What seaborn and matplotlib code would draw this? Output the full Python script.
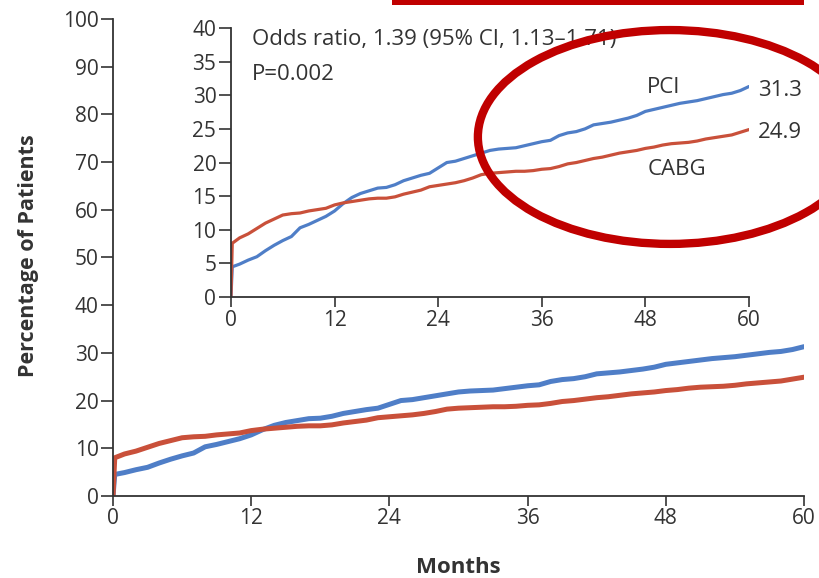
import matplotlib
matplotlib.use("Agg")
import matplotlib.pyplot as plt
from matplotlib.patches import Ellipse, Rectangle
import pandas as pd
import seaborn as sns

# Cumulative incidence of the primary end point, percent of patients
months = [0, 0.15] + list(range(1, 61))
pci = [0, 4.5,
       4.9, 5.5, 6.0, 6.9, 7.7, 8.4, 9.0, 10.3, 10.8, 11.4,
       12.0, 12.8, 13.9, 14.8, 15.4, 15.8, 16.2, 16.3, 16.7, 17.3,
       17.7, 18.1, 18.4, 19.2, 20.0, 20.2, 20.6, 21.0, 21.4, 21.8,
       22.0, 22.1, 22.2, 22.5, 22.8, 23.1, 23.3, 24.0, 24.4, 24.6,
       25.0, 25.6, 25.8, 26.0, 26.3, 26.6, 27.0, 27.6, 27.9, 28.2,
       28.5, 28.8, 29.0, 29.2, 29.5, 29.8, 30.1, 30.3, 30.7, 31.3]
cabg = [0, 8.0,
        8.8, 9.4, 10.2, 11.0, 11.6, 12.2, 12.4, 12.5, 12.8, 13.0,
        13.2, 13.7, 14.0, 14.2, 14.4, 14.6, 14.7, 14.7, 14.9, 15.3,
        15.6, 15.9, 16.4, 16.6, 16.8, 17.0, 17.3, 17.7, 18.2, 18.4,
        18.5, 18.6, 18.7, 18.7, 18.8, 19.0, 19.1, 19.4, 19.8, 20.0,
        20.3, 20.6, 20.8, 21.1, 21.4, 21.6, 21.8, 22.1, 22.3, 22.6,
        22.8, 22.9, 23.0, 23.2, 23.5, 23.7, 23.9, 24.1, 24.5, 24.9]

groups = ["PCI", "CABG"]
final_labels = ["31.3", "24.9"]
x_ticks = [0, 12, 24, 36, 48, 60]
main_y_ticks = [0, 10, 20, 30, 40, 50, 60, 70, 80, 90, 100]
inset_y_ticks = [0, 5, 10, 15, 20, 25, 30, 35, 40]
odds_text = "Odds ratio, 1.39 (95% CI, 1.13\u20131.71)"
p_text = "P=0.002"

df = pd.concat([
    pd.DataFrame({"Months": months, "Percent": pci, "Group": groups[0]}),
    pd.DataFrame({"Months": months, "Percent": cabg, "Group": groups[1]}),
])

palette = {"PCI": "#4F7EC7", "CABG": "#C9503A"}
ink = "#333333"

sns.set_theme(style="white")
plt.rcParams["font.family"] = ["Open Sans", "DejaVu Sans"]
plt.rcParams["text.color"] = ink
plt.rcParams["axes.edgecolor"] = ink
plt.rcParams["xtick.color"] = ink
plt.rcParams["ytick.color"] = ink

fig = plt.figure(figsize=(8.19, 5.78), dpi=100)


def style_axes(a, ylim, yticks):
    a.set_xlim(0, 60)
    a.set_ylim(*ylim)
    a.set_xticks(x_ticks)
    a.set_yticks(yticks)
    a.set_xlabel("")
    a.set_ylabel("")
    sns.despine(ax=a)
    for s in ("left", "bottom"):
        a.spines[s].set_linewidth(1.3)
    a.tick_params(axis="both", direction="out", width=1.2, labelsize=15,
                  pad=1.5, left=True, bottom=True)
    a.tick_params(axis="y", length=9)
    a.tick_params(axis="x", length=7.5)


# Main panel: full 0-100 scale
ax = fig.add_axes([0.138, 0.142, 0.8437, 0.825])
sns.lineplot(data=df, x="Months", y="Percent", hue="Group", palette=palette,
             linewidth=3.6, legend=False, ax=ax, estimator=None, sort=False)
style_axes(ax, (0, 100), main_y_ticks)

fig.text(0.035, 0.558, "Percentage of Patients", rotation=90, ha="center",
         va="center", fontsize=15.5, fontweight="bold", color=ink)
fig.text(0.559, 0.018, "Months", ha="center", va="center",
         fontsize=16, fontweight="bold", color=ink)

# Inset: zoomed 0-40 scale
ins = fig.add_axes([0.282, 0.486, 0.6325, 0.4656])
sns.lineplot(data=df, x="Months", y="Percent", hue="Group", palette=palette,
             linewidth=2.3, legend=False, ax=ins, estimator=None, sort=False)
style_axes(ins, (0, 40), inset_y_ticks)
ins.patch.set_alpha(0)

tsize = 16
ins.text(2.4, 37.5, odds_text, fontsize=tsize, va="baseline", ha="left")
ins.text(2.4, 32.3, p_text, fontsize=tsize, va="baseline", ha="left")
ins.text(50.1, 30.3, groups[0], fontsize=tsize, ha="center", va="baseline")
ins.text(51.6, 18.1, groups[1], fontsize=tsize, ha="center", va="baseline")
ins.text(61.0, 29.9, final_labels[0], fontsize=tsize, ha="left",
         va="baseline", clip_on=False)
ins.text(61.0, 23.6, final_labels[1], fontsize=tsize, ha="left",
         va="baseline", clip_on=False)

# Red highlight marks drawn over the figure
highlight = "#C00000"
fig.patches.append(Ellipse((0.818, 0.763), 0.469, 0.370, fill=False,
                           edgecolor=highlight, linewidth=6,
                           transform=fig.transFigure, figure=fig, zorder=5))
fig.patches.append(Rectangle((0.4786, 0.9913), 0.503, 0.02,
                             facecolor=highlight, edgecolor="none",
                             transform=fig.transFigure, figure=fig, zorder=5))

fig.savefig("out.png", dpi=100)
